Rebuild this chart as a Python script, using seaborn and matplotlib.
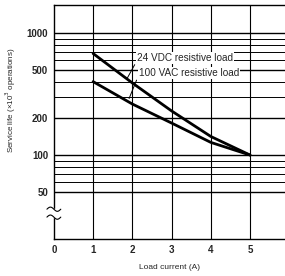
import numpy as np
import matplotlib
matplotlib.use("Agg")
import matplotlib.pyplot as plt
import seaborn as sns
import pandas as pd

# values
load_current = [1, 2, 3, 4, 5]
life_24vdc = [680, 390, 230, 142, 100]
life_100vac = [400, 262, 183, 127, 100]
y_ticks = [50, 100, 200, 500, 1000]
x_ticks = [0, 1, 2, 3, 4, 5]
grid_levels = [50, 60, 70, 80, 90, 100, 200, 300, 400, 500, 600, 700, 800, 900, 1000]

sns.set_style("white")
plt.rcParams['font.family'] = ['Liberation Sans', 'DejaVu Sans']

df = pd.DataFrame({
    "current": load_current * 2,
    "life": life_24vdc + life_100vac,
    "load": ["24 VDC resistive load"] * 5 + ["100 VAC resistive load"] * 5,
})

fig = plt.figure(figsize=(2.85, 2.76), dpi=100)
ax = fig.add_axes([0.189, 0.134, 0.811, 0.848])

for g in grid_levels:
    lw = 1.0 if g in y_ticks else 0.7
    ax.axhline(g, color="black", lw=lw, zorder=1)
for x in x_ticks[1:]:
    ax.axvline(x, color="black", lw=0.8, zorder=1)

sns.lineplot(data=df, x="current", y="life", hue="load", palette=["black", "black"],
             lw=2.0, legend=False, ax=ax, zorder=3)

ax.set_yscale("log")
ax.set_ylim(20.5, 1700)
ax.set_xlim(0, 5.89)
ax.set_yticks(y_ticks)
ax.set_yticklabels([str(t) for t in y_ticks])
ax.minorticks_off()
ax.set_xticks(x_ticks)
ax.tick_params(length=0, labelsize=7, pad=4)
for lab in ax.get_xticklabels() + ax.get_yticklabels():
    lab.set_fontweight("bold")

ax.set_xlabel("Load current (A)", fontsize=6, labelpad=7)
ax.set_ylabel("Service life (\u00d710$^3$ operations)", fontsize=5.8)
ax.yaxis.set_label_coords(-0.155, 0.594)

for side in ["left", "bottom", "top"]:
    ax.spines[side].set_color("black")
    ax.spines[side].set_linewidth(1.0)
ax.spines["right"].set_visible(False)

# axis break mark on the left spine
trans = ax.get_yaxis_transform()
ax.fill_between([-0.02, 0.02], 31, 36, color="white", transform=trans, zorder=5, clip_on=False)
t = np.linspace(0, 1, 20)
for yc in (36, 31):
    ys = yc * (1 + 0.04 * np.sin(t * 2 * np.pi))
    ax.plot(-0.03 + 0.06 * t, ys, color="black", lw=0.8, transform=trans, clip_on=False, zorder=6)

# curve annotations with leader lines
box = dict(boxstyle="square,pad=0.1", fc="white", ec="none")
ax.annotate("24 VDC resistive load", xy=(1.84, 410), xytext=(2.12, 620),
            fontsize=7.2, va="center", ha="left", bbox=box,
            arrowprops=dict(arrowstyle="-", lw=0.7, color="black", relpos=(0, 0.3)), zorder=7)
ax.annotate("100 VAC resistive load", xy=(1.89, 277), xytext=(2.16, 470),
            fontsize=7.2, va="center", ha="left", bbox=box,
            arrowprops=dict(arrowstyle="-", lw=0.7, color="black", relpos=(0, 0.3)), zorder=7)

fig.savefig("out.png", dpi=100)
